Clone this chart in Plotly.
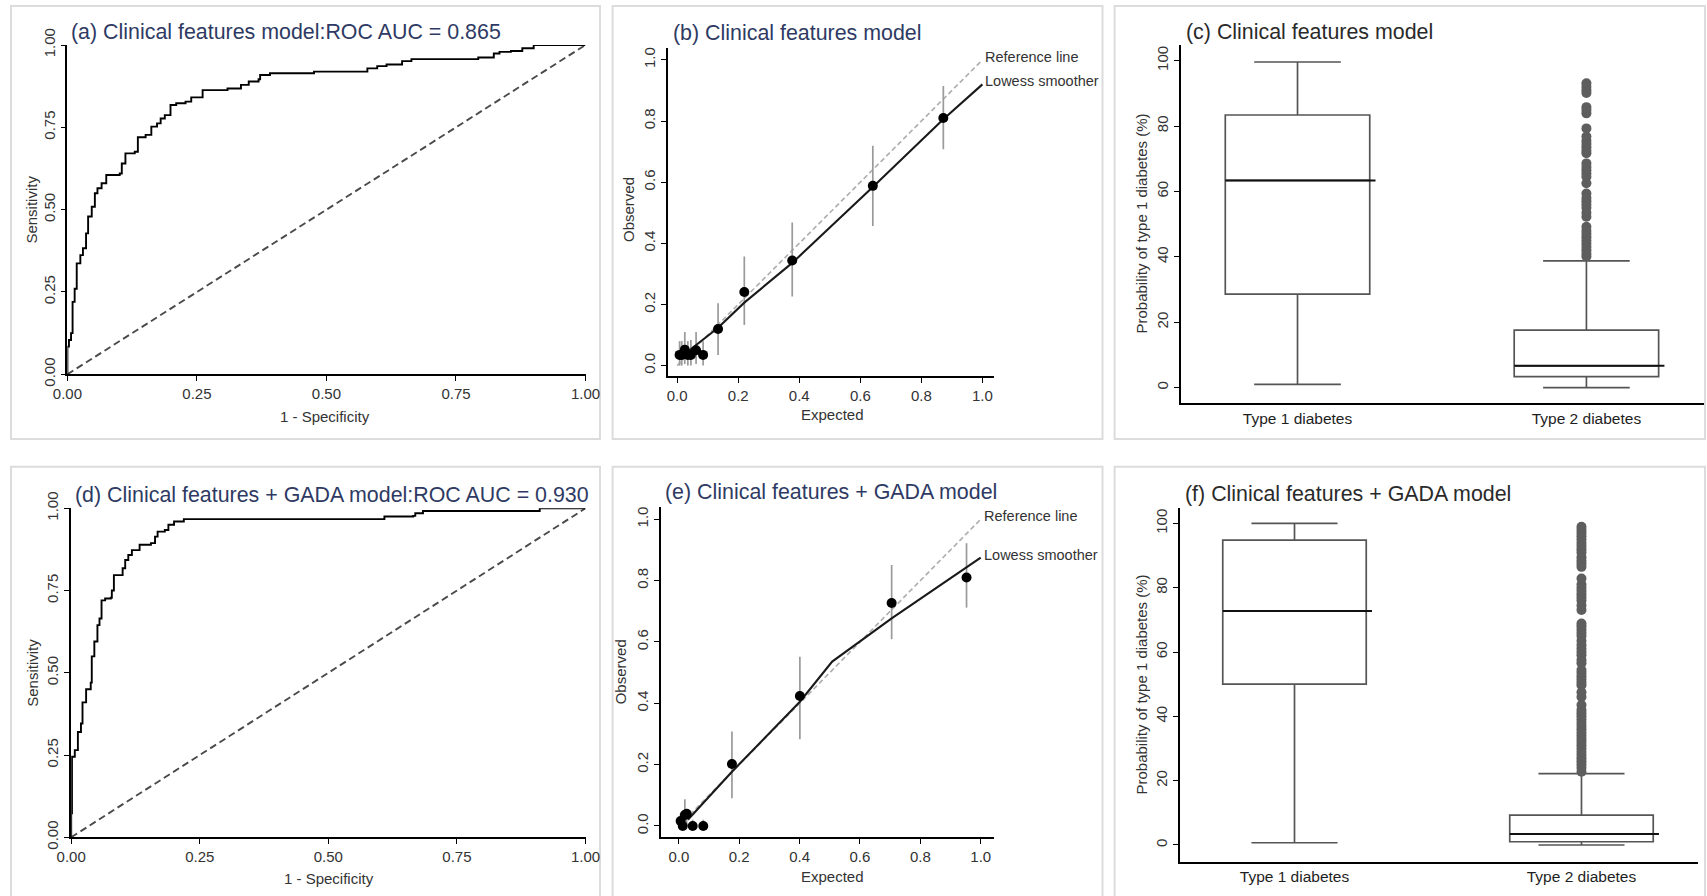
import plotly.graph_objects as go

W, H = 1707, 896

# ---------------- data ----------------
# (a) ROC, clinical features model
roc_a_fpr = [0, 0, 0.003, 0.007, 0.01, 0.014, 0.018, 0.025, 0.03, 0.036, 0.04, 0.047, 0.053, 0.058,
             0.066, 0.075, 0.101, 0.105, 0.112, 0.13, 0.136, 0.151, 0.162, 0.173, 0.18, 0.188,
             0.199, 0.21, 0.228, 0.239, 0.261, 0.309, 0.335, 0.35, 0.369, 0.372, 0.391, 0.476,
             0.579, 0.598, 0.616, 0.646, 0.664, 0.793, 0.823, 0.834, 0.856, 0.878, 0.9, 1.0]
roc_a_tpr = [0, 0.084, 0.104, 0.125, 0.22, 0.26, 0.337, 0.362, 0.383, 0.428, 0.479, 0.509, 0.55, 0.565,
             0.58, 0.605, 0.61, 0.64, 0.671, 0.676, 0.72, 0.727, 0.752, 0.762, 0.777, 0.787,
             0.818, 0.823, 0.828, 0.841, 0.863, 0.868, 0.879, 0.889, 0.896, 0.909, 0.914, 0.919,
             0.929, 0.936, 0.941, 0.951, 0.957, 0.962, 0.974, 0.979, 0.982, 0.99, 1.0, 1.0]
auc_a = "0.865"

# (d) ROC, clinical features + GADA model
roc_d_fpr = [0, 0, 0.0015, 0.007, 0.013, 0.019, 0.022, 0.029, 0.038, 0.04, 0.045, 0.051, 0.055, 0.059,
             0.066, 0.077, 0.079, 0.083, 0.096, 0.1, 0.105, 0.111, 0.118, 0.133, 0.155, 0.163,
             0.168, 0.182, 0.189, 0.2, 0.219, 0.606, 0.609, 0.665, 0.669, 0.684, 0.907, 0.911, 1.0]
roc_d_tpr = [0, 0.073, 0.245, 0.265, 0.32, 0.346, 0.41, 0.45, 0.47, 0.55, 0.595, 0.645, 0.665, 0.72,
             0.726, 0.728, 0.75, 0.797, 0.797, 0.818, 0.843, 0.858, 0.873, 0.889, 0.894, 0.914,
             0.929, 0.934, 0.95, 0.96, 0.967, 0.967, 0.975, 0.977, 0.985, 0.992, 0.992, 1.0, 1.0]
auc_d = "0.930"

# (b) calibration, clinical features model
cal_b_expected = [0.008, 0.015, 0.025, 0.035, 0.045, 0.062, 0.085, 0.134, 0.22, 0.377, 0.641, 0.872]
cal_b_observed = [0.035, 0.035, 0.052, 0.035, 0.035, 0.05, 0.035, 0.12, 0.241, 0.344, 0.588, 0.81]
cal_b_ci_low = [0.0, 0.0, 0.005, 0.0, 0.0, 0.005, 0.0, 0.035, 0.133, 0.226, 0.457, 0.708]
cal_b_ci_high = [0.08, 0.08, 0.11, 0.08, 0.084, 0.11, 0.08, 0.204, 0.357, 0.468, 0.719, 0.915]
lowess_b_x = [0.03, 0.06, 0.134, 0.22, 0.377, 0.641, 0.872, 1.0]
lowess_b_y = [0.042, 0.065, 0.124, 0.206, 0.336, 0.584, 0.806, 0.92]

# (e) calibration, clinical features + GADA model
cal_e_expected = [0.006, 0.013, 0.02, 0.026, 0.046, 0.081, 0.176, 0.401, 0.705, 0.953]
cal_e_observed = [0.016, 0.0, 0.036, 0.04, 0.0, 0.0, 0.202, 0.424, 0.727, 0.81]
cal_e_ci_low = [0.0, 0.0, 0.0, 0.0, 0.0, 0.0, 0.09, 0.283, 0.609, 0.712]
cal_e_ci_high = [0.04, 0.02, 0.087, 0.05, 0.02, 0.02, 0.308, 0.552, 0.851, 0.922]
lowess_e_x = [0.03, 0.176, 0.401, 0.508, 0.705, 1.0]
lowess_e_y = [0.02, 0.177, 0.405, 0.536, 0.677, 0.875]

ref_line = [0, 1]

# (c)/(f) box plots: probability of type 1 diabetes (%)
groups = ["Type 1 diabetes", "Type 2 diabetes"]
c_lower = [1.0, 0.0]
c_q1 = [28.6, 3.4]
c_median = [63.4, 6.7]
c_q3 = [83.4, 17.6]
c_upper = [99.6, 38.8]
c_outliers_t2 = [40.1, 41, 42, 43, 44, 45, 46, 47, 48, 49.2, 52.3, 53.5, 55, 56, 57, 58, 59.4,
                 62.5, 64.5, 65.5, 66.5, 67.5, 68.6, 71.7, 72.5, 73.5, 74.5, 75.5, 76.8, 79.3,
                 83.9, 84.9, 85.8, 90.1, 91, 92, 93.1]

f_lower = [0.7, 0.0]
f_q1 = [50.0, 1.0]
f_median = [72.8, 3.4]
f_q3 = [94.8, 9.3]
f_upper = [100.0, 22.2]
f_outliers_t2 = [22.8, 24, 25, 26, 27, 28, 29, 30, 31, 32, 33, 34, 35, 36, 37, 38, 39, 40, 41, 42,
                 43.5, 46, 47.5, 49.7, 50.5, 51.5, 52.5, 53.5, 54.4, 56.5, 57.5, 59, 60, 61.1, 62.2,
                 63.5, 65, 66, 67, 68, 68.9, 73.1, 74.5, 76, 77, 78, 79, 80, 81, 82.9, 86.5, 87.5,
                 88.5, 89.5, 91, 92, 93, 94, 95, 96, 97, 98, 99]

titles = ["(a) Clinical features model:ROC AUC = " + auc_a,
          "(b) Clinical features model",
          "(c) Clinical features model",
          "(d) Clinical features + GADA model:ROC AUC = " + auc_d,
          "(e) Clinical features + GADA model",
          "(f) Clinical features + GADA model"]

# ---------------- styling helpers ----------------
FONT = "Liberation Sans, Arial, Helvetica, sans-serif"
NAVY = "#2e3a63"
TXT = "#2a2a2a"


def dx(p0, p1):
    return [p0 / W, p1 / W]


def dy(top, bottom):
    return [1 - bottom / H, 1 - top / H]


def ax_common():
    return dict(showline=True, linecolor="black", linewidth=1.6, ticks="outside", ticklen=5,
                tickwidth=1.3, tickcolor="black", showgrid=False, zeroline=False,
                automargin=False,
                tickfont=dict(family=FONT, size=15, color="#333333"), fixedrange=True)


fig = go.Figure()

# ---------------- ROC panels ----------------
for k, (fpr, tpr) in zip([1, 4], [(roc_a_fpr, roc_a_tpr), (roc_d_fpr, roc_d_tpr)]):
    xa, ya = f"x{k}", f"y{k}"
    fig.add_trace(go.Scatter(x=ref_line, y=ref_line, mode="lines", xaxis=xa, yaxis=ya,
                             line=dict(color="#4a4a4a", width=1.9, dash="7px,4px"),
                             showlegend=False, hoverinfo="skip"))
    fig.add_trace(go.Scatter(x=fpr, y=tpr, mode="lines", xaxis=xa, yaxis=ya, line_shape="hv",
                             line=dict(color="black", width=1.9), showlegend=False, cliponaxis=False))

# ---------------- calibration panels ----------------
cal_sets = [
    (2, cal_b_expected, cal_b_observed, cal_b_ci_low, cal_b_ci_high, lowess_b_x, lowess_b_y),
    (5, cal_e_expected, cal_e_observed, cal_e_ci_low, cal_e_ci_high, lowess_e_x, lowess_e_y),
]
for k, ex, ob, lo, hi, lx, ly in cal_sets:
    xa, ya = f"x{k}", f"y{k}"
    fig.add_trace(go.Scatter(x=ref_line, y=ref_line, mode="lines", xaxis=xa, yaxis=ya,
                             line=dict(color="#b0b0b0", width=1.7, dash="5px,3px"),
                             showlegend=False, hoverinfo="skip"))
    fig.add_trace(go.Scatter(x=ex, y=ob, mode="markers", xaxis=xa, yaxis=ya,
                             marker=dict(color="rgba(0,0,0,0)", size=1),
                             error_y=dict(type="data", symmetric=False,
                                          array=[h - o for h, o in zip(hi, ob)],
                                          arrayminus=[o - l for o, l in zip(ob, lo)],
                                          color="#9a9a9a", thickness=1.7, width=0),
                             showlegend=False))
    fig.add_trace(go.Scatter(x=lx, y=ly, mode="lines", xaxis=xa, yaxis=ya,
                             line=dict(color="#1a1a1a", width=2.1), showlegend=False))
    fig.add_trace(go.Scatter(x=ex, y=ob, mode="markers", xaxis=xa, yaxis=ya,
                             marker=dict(color="black", size=10), showlegend=False,
                             cliponaxis=False))
    fig.add_annotation(x=ref_line[1], y=ref_line[1], xref=xa, yref=ya, text="Reference line",
                       showarrow=False, xanchor="left", yanchor="middle", xshift=1, yshift=3,
                       font=dict(family=FONT, size=14.5, color="#333333"))
    fig.add_annotation(x=lx[-1], y=ly[-1], xref=xa, yref=ya, text="Lowess smoother",
                       showarrow=False, xanchor="left", yanchor="middle", xshift=1, yshift=3,
                       font=dict(family=FONT, size=14.5, color="#333333"))

# ---------------- box panels ----------------
BOXW = 0.5
box_sets = [
    (3, c_lower, c_q1, c_median, c_q3, c_upper, c_outliers_t2),
    (6, f_lower, f_q1, f_median, f_q3, f_upper, f_outliers_t2),
]
for k, lf, q1, md, q3, uf, outs in box_sets:
    xa, ya = f"x{k}", f"y{k}"
    for i in range(len(groups)):
        fig.add_trace(go.Box(x=[i], q1=[q1[i]], median=[md[i]], q3=[q3[i]],
                             lowerfence=[lf[i]], upperfence=[uf[i]], orientation="v",
                             xaxis=xa, yaxis=ya, width=BOXW, whiskerwidth=0.6,
                             line=dict(color="#555555", width=1.7),
                             fillcolor="rgba(255,255,255,0)", boxpoints=False,
                             showlegend=False))
        fig.add_trace(go.Scatter(x=[i - BOXW / 2, i + BOXW / 2 + 0.02], y=[md[i], md[i]],
                                 mode="lines", xaxis=xa, yaxis=ya,
                                 line=dict(color="#111111", width=2), showlegend=False,
                                 hoverinfo="skip"))
    fig.add_trace(go.Scatter(x=[1] * len(outs), y=outs, mode="markers", xaxis=xa, yaxis=ya,
                             marker=dict(color="#5e5e5e", size=10), showlegend=False))

# ---------------- axes ----------------
layout = {}
axes_spec = {
    # k: (x px range, y px (top,bottom), xrange, yrange)
    1: ((67.4, 585.5), (45, 374.3), [0, 1], [0, 1]),
    2: ((668, 994), (47.7, 376), [-0.03, 1.038], [-0.034, 1.04]),
    3: ((1180.8, 1704), (45, 403.3), [-0.404, 1.407], [-4.77, 104.8]),
    4: ((71.2, 585.5), (508.3, 837.3), [0, 1], [0, 1]),
    5: ((661, 994), (506.7, 836.7), [-0.059, 1.044], [-0.035, 1.041]),
    6: ((1179.7, 1698), (507.7, 861.7), [-0.4, 1.406], [-5.2, 104.9]),
}
for k, (xp, yp, xr, yr) in axes_spec.items():
    xs = "xaxis" if k == 1 else f"xaxis{k}"
    ys = "yaxis" if k == 1 else f"yaxis{k}"
    xa = ax_common()
    ya = ax_common()
    xa.update(domain=dx(*xp), range=xr, anchor=f"y{k}")
    ya.update(domain=dy(*yp), range=yr, anchor=f"x{k}", tickangle=-90)
    if k in (1, 4):
        xa.update(tickvals=[0, 0.25, 0.5, 0.75, 1.0], ticktext=["0.00", "0.25", "0.50", "0.75", "1.00"])
        ya.update(tickvals=[0, 0.25, 0.5, 0.75, 1.0], ticktext=["0.00", "0.25", "0.50", "0.75", "1.00"])
    elif k in (2, 5):
        tv = [0, 0.2, 0.4, 0.6, 0.8, 1.0]
        tt = ["0.0", "0.2", "0.4", "0.6", "0.8", "1.0"]
        xa.update(tickvals=tv, ticktext=tt)
        ya.update(tickvals=tv, ticktext=tt)
    else:
        xa.update(tickvals=[0, 1], ticktext=groups, ticks="",
                  tickfont=dict(family=FONT, size=15.5, color="#1e1e1e"))
        ya.update(tickvals=[0, 20, 40, 60, 80, 100])
    layout[xs] = xa
    layout[ys] = ya

fig.update_layout(**layout)

# ---------------- titles & axis titles ----------------
title_pos = [(69, 32, NAVY), (671, 33, NAVY), (1184, 32.3, TXT),
             (72.7, 495, NAVY), (663, 491.7, NAVY), (1183, 494, TXT)]
for t, (x, y, col) in zip(titles, title_pos):
    fig.add_annotation(x=x / W, y=1 - y / H, xref="paper", yref="paper", text=t, showarrow=False,
                       xanchor="left", yanchor="middle",
                       font=dict(family=FONT, size=21.4, color=col))

axis_titles = [
    ("Sensitivity", 30.6, 210, -90), ("1 - Specificity", 325, 416, 0),
    ("Observed", 628, 210, -90), ("Expected", 832, 415, 0),
    ("Probability of type 1 diabetes (%)", 1140.5, 224, -90),
    ("Sensitivity", 32.5, 673.3, -90), ("1 - Specificity", 329, 878.3, 0),
    ("Observed", 620.6, 671.7, -90), ("Expected", 832, 876.7, 0),
    ("Probability of type 1 diabetes (%)", 1140.5, 685, -90),
]
for t, x, y, ang in axis_titles:
    fig.add_annotation(x=x / W, y=1 - y / H, xref="paper", yref="paper", text=t, showarrow=False,
                       xanchor="center", yanchor="middle", textangle=ang,
                       font=dict(family=FONT, size=15, color="#333333"))

# ---------------- panel frames ----------------
frames = [(11, 6, 600, 439), (612.6, 6, 1102.5, 439), (1114.6, 6, 1705, 439),
          (11, 466.7, 600, 900), (612.6, 466.7, 1102.5, 900), (1114.6, 466.7, 1705, 900)]
for x0, y0, x1, y1 in frames:
    fig.add_shape(type="rect", xref="paper", yref="paper", x0=x0 / W, x1=x1 / W,
                  y0=1 - y1 / H, y1=1 - y0 / H, line=dict(color="#dcdcdc", width=2),
                  layer="below")

fig.update_layout(template="none", width=W, height=H, margin=dict(l=0, r=0, t=0, b=0, pad=0),
                  paper_bgcolor="white", plot_bgcolor="white", showlegend=False,
                  font=dict(family=FONT))

fig.write_html("out.html")
